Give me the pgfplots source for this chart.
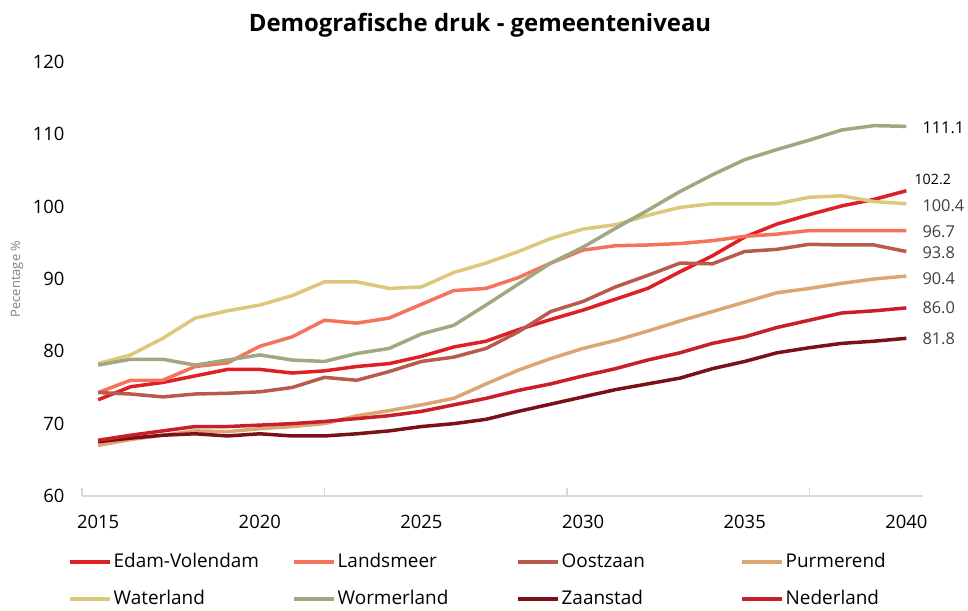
\documentclass[border=0pt]{standalone}
\usepackage{fontspec}
\setmainfont{Open Sans}
\usepackage{pgfplots}
\usepackage{pgfplotstable}
\pgfplotsset{compat=1.18}

\definecolor{cEV}{HTML}{DF1F26}
\definecolor{cLM}{HTML}{F4735A}
\definecolor{cOZ}{HTML}{B95B4C}
\definecolor{cPU}{HTML}{DCA673}
\definecolor{cWA}{HTML}{DCC87A}
\definecolor{cWO}{HTML}{A0A781}
\definecolor{cZA}{HTML}{7A1116}
\definecolor{cNL}{HTML}{C91F2B}
\definecolor{axisgrey}{HTML}{D9D9D9}
\definecolor{labgrey}{HTML}{404040}

% demografische druk per jaar (in %)
\pgfplotstableread{
year  EV     LM    OZ    PU    WA     WO     ZA    NL
2015  73.3   74.3  74.3  67.0  78.3   78.1   67.5  67.7
2016  75.1   76.0  74.1  67.8  79.5   78.9   68.0  68.4
2017  75.7   76.0  73.7  68.4  81.8   78.9   68.4  69.0
2018  76.6   77.9  74.1  69.0  84.6   78.1   68.6  69.6
2019  77.5   78.4  74.2  68.9  85.6   78.8   68.3  69.6
2020  77.5   80.7  74.4  69.3  86.4   79.5   68.6  69.8
2021  77.0   82.0  75.0  69.6  87.7   78.8   68.3  70.0
2022  77.3   84.3  76.4  70.0  89.6   78.6   68.3  70.3
2023  77.9   83.9  76.0  71.1  89.6   79.7   68.6  70.7
2024  78.3   84.6  77.2  71.8  88.7   80.4   69.0  71.1
2025  79.3   86.5  78.6  72.6  88.9   82.4   69.6  71.7
2026  80.6   88.4  79.2  73.5  90.9   83.6   70.0  72.6
2027  81.4   88.7  80.4  75.5  92.2   86.4   70.6  73.5
2028  83.0   90.2  82.7  77.4  93.8   89.3   71.7  74.6
2029  84.4   92.2  85.5  79.0  95.6   92.2   72.7  75.5
2030  85.7   94.0  86.9  80.4  96.9   94.4   73.7  76.6
2031  87.2   94.6  88.9  81.5  97.5   97.0   74.7  77.6
2032  88.7   94.7  90.5  82.8  98.8   99.5   75.5  78.8
2033  91.0   94.9  92.2  84.2  99.9  102.1   76.3  79.8
2034  93.2   95.3  92.1  85.5  100.4 104.4   77.6  81.1
2035  95.8   95.9  93.8  86.8  100.4 106.5   78.6  82.0
2036  97.6   96.2  94.1  88.1  100.4 107.9   79.8  83.3
2037  98.9   96.7  94.8  88.7  101.3 109.2   80.5  84.3
2038  100.1  96.7  94.7  89.4  101.5 110.6   81.1  85.3
2039  101.0  96.7  94.7  90.0  100.7 111.2   81.4  85.6
2040  102.2  96.7  93.8  90.4  100.4 111.1   81.8  86.0
}\demo

\begin{document}
\begin{tikzpicture}[x=1bp,y=1bp]
\path[use as bounding box] (0,0) rectangle (968,611);
\node[font=\bfseries\fontsize{24}{28}\selectfont] at (480,586) {Demografische druk - gemeenteniveau};
\node[rotate=90, text=gray, font=\fontsize{13}{15}\selectfont] at (17,332) {Pecentage \%};
\begin{axis}[
    at={(82bp,115bp)}, anchor=south west,
    scale only axis, width=840.5bp, height=434bp,
    xmin=2014.5, xmax=2040.5, ymin=60, ymax=120,
    axis x line*=bottom, axis y line*=left,
    x axis line style={-, draw=axisgrey, line width=1.6bp},
    y axis line style={draw=none},
    xtick={2015,2020,...,2040}, ytick={60,70,...,120},
    major tick length=0pt,
    extra x ticks={2014.5,2022,2029.5,2037},
    extra x tick labels={},
    extra x tick style={tick align=inside, major tick length=8bp,
        tick style={draw=axisgrey, line width=1.6bp}},
    tick label style={font=\fontsize{18.5}{21}\selectfont},
    /pgf/number format/assume math mode=true,
    x tick label style={/pgf/number format/1000 sep={}, yshift=-16bp},
    y tick label style={xshift=-14bp},
    clip=false,
    every axis plot/.append style={line width=3.5bp, line join=round},
    legend columns=4,
    legend image code/.code={\draw[#1, line width=3.5bp] (0bp,0bp) -- (40bp,0bp);},
    legend style={at={(-0.0161,-0.1313)}, anchor=north west, draw=none, fill=none,
        inner sep=0pt, row sep=19bp, column sep=0pt,
        font=\fontsize{19}{22}\selectfont,
        nodes={inner sep=1.5bp, text height=13bp, text depth=2bp}},
    legend cell align=left,
]
\addplot[cEV] table[x=year, y=EV] {\demo};
\addlegendentry{\makebox[177.5bp][l]{Edam-Volendam}}
\addplot[cLM] table[x=year, y=LM] {\demo};
\addlegendentry{\makebox[177.5bp][l]{Landsmeer}}
\addplot[cOZ] table[x=year, y=OZ] {\demo};
\addlegendentry{\makebox[177.5bp][l]{Oostzaan}}
\addplot[cPU] table[x=year, y=PU] {\demo};
\addlegendentry{\makebox[177.5bp][l]{Purmerend}}
\addplot[cWA] table[x=year, y=WA] {\demo};
\addlegendentry{\makebox[177.5bp][l]{Waterland}}
\addplot[cWO] table[x=year, y=WO] {\demo};
\addlegendentry{\makebox[177.5bp][l]{Wormerland}}
\addplot[cZA] table[x=year, y=ZA] {\demo};
\addlegendentry{\makebox[177.5bp][l]{Zaanstad}}
\addplot[cNL] table[x=year, y=NL] {\demo};
\addlegendentry{\makebox[177.5bp][l]{Nederland}}

% eindwaarden 2040
\begin{scope}[every node/.style={anchor=west, inner sep=0pt, font=\fontsize{16.4}{19}\selectfont, text=labgrey}]
\node[text=black, xshift=16bp] at (axis cs:2040,110.9) {111.1};
\node[text=black, xshift=8bp, font=\fontsize{14.3}{17}\selectfont] at (axis cs:2040,103.8) {102.2};
\node[xshift=16bp] at (axis cs:2040,100.1) {100.4};
\node[xshift=16bp] at (axis cs:2040,96.5) {96.7};
\node[xshift=16bp] at (axis cs:2040,93.6) {93.8};
\node[xshift=16bp] at (axis cs:2040,90.1) {90.4};
\node[xshift=16bp] at (axis cs:2040,86.0) {86.0};
\node[xshift=16bp] at (axis cs:2040,81.7) {81.8};
\end{scope}
\end{axis}
\end{tikzpicture}
\end{document}
